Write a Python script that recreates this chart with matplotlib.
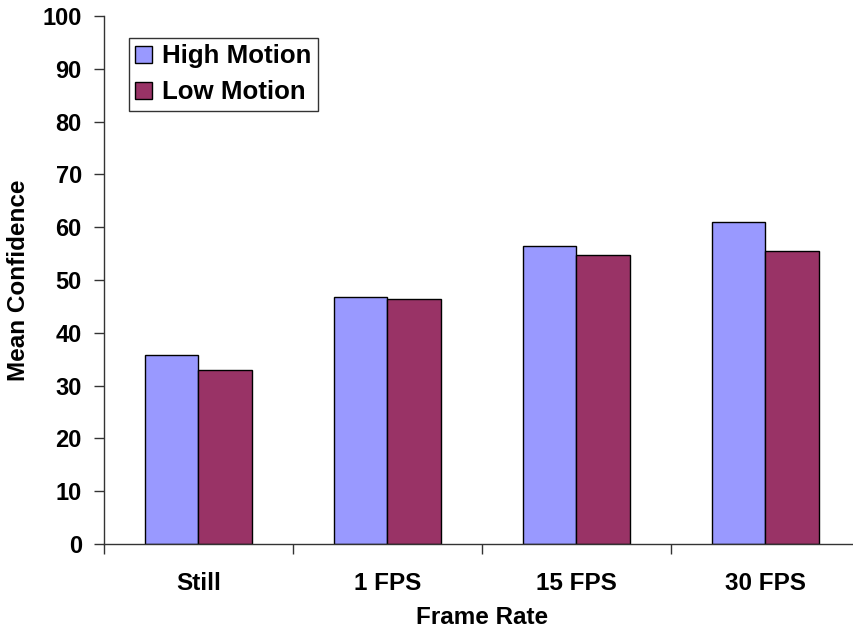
import matplotlib
matplotlib.use("Agg")
import matplotlib.pyplot as plt
import numpy as np

categories = ["Still", "1 FPS", "15 FPS", "30 FPS"]
high_motion = [35.8, 46.8, 56.4, 61.0]
low_motion = [32.9, 46.4, 54.7, 55.4]
yticks = list(range(0, 101, 10))

plt.rcParams['font.family'] = ['Liberation Sans', 'DejaVu Sans']
plt.rcParams['font.weight'] = 'bold'

fig = plt.figure(figsize=(8.54, 6.34), dpi=100)
ax = fig.add_axes([104/854, 90/634, 756/854, 528/634])

x = np.arange(len(categories))
w = 0.285
ax.bar(x - w/2, high_motion, w, color='#9999FF', edgecolor='black', linewidth=1, label='High Motion')
ax.bar(x + w/2, low_motion, w, color='#993366', edgecolor='black', linewidth=1, label='Low Motion')

ax.set_xlim(-0.5, len(categories) - 0.5)
ax.set_ylim(0, 100)
ax.set_yticks(yticks)
ax.set_yticklabels([str(t) for t in yticks], fontsize=17, fontweight='bold')
ax.set_xticks(x)
ax.set_xticklabels(categories, fontsize=17.5, fontweight='bold')
ax.set_xticks(np.arange(len(categories) + 1) - 0.5, minor=True)
ax.tick_params(axis='x', which='major', length=0, pad=20)
ax.tick_params(axis='x', which='minor', length=7, direction='out', width=1, color='#333333')
ax.tick_params(axis='y', length=7, direction='out', width=1, color='#333333', pad=9)

for s in ['top', 'right']:
    ax.spines[s].set_visible(False)
for s in ['left', 'bottom']:
    ax.spines[s].set_color('#333333')
    ax.spines[s].set_linewidth(1)

ax.set_xlabel('Frame Rate', fontsize=17.5, fontweight='bold')
ax.xaxis.set_label_coords(0.5, -0.117)
ax.set_ylabel('Mean Confidence', fontsize=17.5, fontweight='bold')
ax.yaxis.set_label_coords(-0.098, 0.5)

leg = ax.legend(loc='upper left', bbox_to_anchor=(25/756, 1 - 22/528), fontsize=18.6,
                frameon=True, fancybox=False, handlelength=0.64, handleheight=0.64,
                handletextpad=0.4, borderpad=0.25, labelspacing=0.46, borderaxespad=0)
leg.get_frame().set_edgecolor('black')
leg.get_frame().set_linewidth(1)
for t in leg.get_texts():
    t.set_fontweight('bold')

fig.savefig('out.png', dpi=100)
